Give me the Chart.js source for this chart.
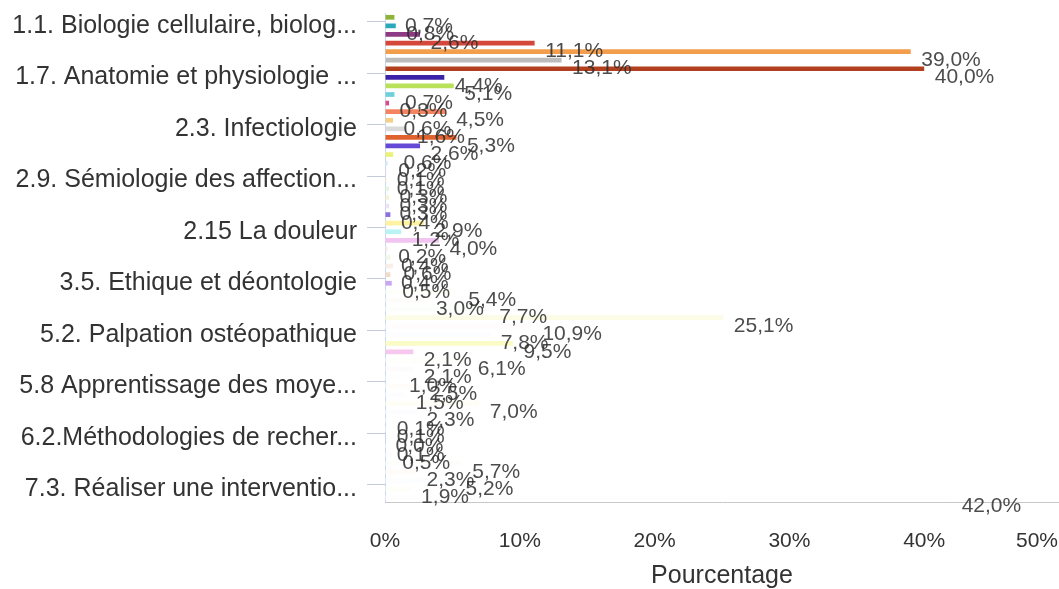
<!DOCTYPE html>
<html>
<head>
<meta charset="utf-8">
<script src="https://cdn.jsdelivr.net/npm/chart.js@4.4.0/dist/chart.umd.min.js"></script>
<style>
    html, body { margin: 0; padding: 0; background: #fff; }
    #contenedor { width: 1059px; height: 589px; }
</style>
</head>
<body>
<div id="contenedor"><canvas id="graficoBarras"></canvas></div>
<script>
// categorias (solo una de cada seis se muestra en el eje)
const categorias = [
    'Général', '1.1. Biologie cellulaire, biolog...', '1.2.', '1.3.', '1.4.', '1.5.', '1.6.',
    '1.7. Anatomie et physiologie ...', '1.8.', '1.9.', '1.10.', '2.1.', '2.2.',
    '2.3. Infectiologie', '2.4.', '2.5.', '2.6.', '2.7.', '2.8.',
    '2.9. Sémiologie des affection...', '2.10.', '2.11.', '2.12.', '2.13.', '2.14.',
    '2.15 La douleur', '2.16.', '3.1.', '3.2.', '3.3.', '3.4.',
    '3.5. Ethique et déontologie', '3.6.', '4.1.', '4.2.', '4.3.', '5.1.',
    '5.2. Palpation ostéopathique', '5.3.', '5.4.', '5.5.', '5.6.', '5.7.',
    '5.8 Apprentissage des moye...', '5.9.', '5.10.', '5.11.', '5.12.', '6.1.',
    '6.2.Méthodologies de recher...', '6.3.', '6.4.', '6.5.', '7.1.', '7.2.',
    '7.3. Réaliser une interventio...', '7.4.'
];

const porcentajes = [
    0.7, 0.8, 2.6, 11.1, 39.0, 13.1, 40.0, 4.4, 5.1, 0.7,
    0.3, 4.5, 0.6, 1.6, 5.3, 2.6, 0.6, 0.2, 0.1, 0.1,
    0.3, 0.3, 0.3, 0.4, 2.9, 1.2, 4.0, 0.2, 0.4, 0.6,
    0.4, 0.5, 5.4, 3.0, 7.7, 25.1, 10.9, 7.8, 9.5, 2.1,
    6.1, 2.1, 1.0, 2.5, 1.5, 7.0, 2.3, 0.1, 0.1, 0.0,
    0.1, 0.5, 5.7, 2.3, 5.2, 1.9, 42.0
];

const colores = [
    '#8fb339', '#2aa9b9', '#8e3a85', '#d4473b', '#f29e4c', '#bcbcbc', '#b2401e', '#3b22a8',
    '#b9e15a', '#6fd0dc', '#d94c8c', '#f3845f', '#f3cf88', '#dadada', '#e0622d', '#6448d6',
    '#eaf27a', '#d6ecf6', '#f6e0ea', '#fbeadc', '#e6f6e4', '#f8f2d8', '#ece2f6', '#8c6fe0',
    '#fff3a3', '#b8f4f4', '#f2c4f2', '#fbefe2', '#f0f8e8', '#f8f0e8', '#f2dcc8', '#c9a6f2',
    '#fefefa', '#fefcfa', '#fcfefc', '#fcfce6', '#fefcfc', '#fcfdff', '#fbfbc6', '#f6c8ee',
    '#fefefa', '#fdfbfd', '#fdfefd', '#fefdf9', '#fcfdfe', '#fefef6', '#fdfcfe', '#fdfefb',
    '#fefdfc', '#fcfdfe', '#fefdf8', '#fdfbfd', '#fdfefc', '#fefcf9', '#fcfdfe', '#fefef8',
    '#fefefe'
];

const ticksX = [0, 10, 20, 30, 40, 50];

Chart.defaults.font.family = '"Liberation Sans", Arial, sans-serif';

function formatoPct(v) {
    return v.toFixed(1).replace('.', ',') + '%';
}

// etiquetas de valor, desplazadas abajo a la derecha del extremo de cada barra
const etiquetasPlugin = {
    id: 'etiquetas',
    afterDatasetsDraw(chart) {
        const ctx = chart.ctx;
        const meta = chart.getDatasetMeta(0);
        ctx.save();
        ctx.font = '21px "Liberation Sans", Arial, sans-serif';
        ctx.fillStyle = 'rgba(45,45,45,0.85)';
        ctx.textAlign = 'left';
        ctx.textBaseline = 'middle';
        meta.data.forEach((barra, i) => {
            ctx.fillText(formatoPct(porcentajes[i]), barra.x + 10.5, barra.y + 8.5);
        });
        ctx.restore();
    }
};

// etiquetas del eje x (la última se mantiene dentro del lienzo)
const ejeXPlugin = {
    id: 'ejeX',
    afterDraw(chart) {
        const ctx = chart.ctx;
        const escala = chart.scales.x;
        ctx.save();
        ctx.font = '21px "Liberation Sans", Arial, sans-serif';
        ctx.fillStyle = '#333';
        ctx.textAlign = 'center';
        ctx.textBaseline = 'middle';
        ticksX.forEach(v => {
            const txt = v + '%';
            const w = ctx.measureText(txt).width;
            let px = escala.getPixelForValue(v);
            px = Math.min(px, chart.width - 1 - w / 2);
            ctx.fillText(txt, px, 541);
        });
        ctx.restore();
    }
};

const ctx = document.getElementById('graficoBarras').getContext('2d');
new Chart(ctx, {
    type: 'bar',
    data: {
        labels: categorias,
        datasets: [{
            data: porcentajes,
            backgroundColor: colores,
            borderWidth: 0,
            barPercentage: 0.55,
            categoryPercentage: 1
        }]
    },
    options: {
        indexAxis: 'y',
        responsive: true,
        maintainAspectRatio: false,
        animation: false,
        layout: { padding: { top: 13, left: 0, right: 0, bottom: 0 } },
        plugins: {
            legend: { display: false },
            tooltip: { enabled: false }
        },
        scales: {
            y: {
                type: 'category',
                offset: true,
                grid: {
                    offset: true,
                    drawOnChartArea: false,
                    drawTicks: true,
                    tickLength: 18,
                    color: c => (c.index % 6 === 1 ? '#c3cad8' : 'rgba(0,0,0,0)')
                },
                border: { color: '#ccd6eb' },
                ticks: {
                    autoSkip: false,
                    padding: 10,
                    color: '#333',
                    font: { size: 25 },
                    callback: (v, i) => (i % 6 === 1 ? categorias[i] : '')
                },
                afterFit: s => {
                    s.width = 385;
                    s.paddingTop = 0;
                    s.paddingBottom = 0;
                }
            },
            x: {
                type: 'linear',
                min: 0,
                max: 50,
                grid: { drawOnChartArea: false, drawTicks: false },
                border: { color: '#c8c8c8' },
                ticks: { display: false, stepSize: 10 },
                title: {
                    display: true,
                    text: 'Pourcentage',
                    color: '#333',
                    font: { size: 25, lineHeight: 1 },
                    padding: { top: 0, bottom: 0 }
                },
                afterFit: s => {
                    s.height = 87;
                    s.paddingLeft = 0;
                    s.paddingRight = 0;
                }
            }
        }
    },
    plugins: [etiquetasPlugin, ejeXPlugin]
});
</script>
</body>
</html>
